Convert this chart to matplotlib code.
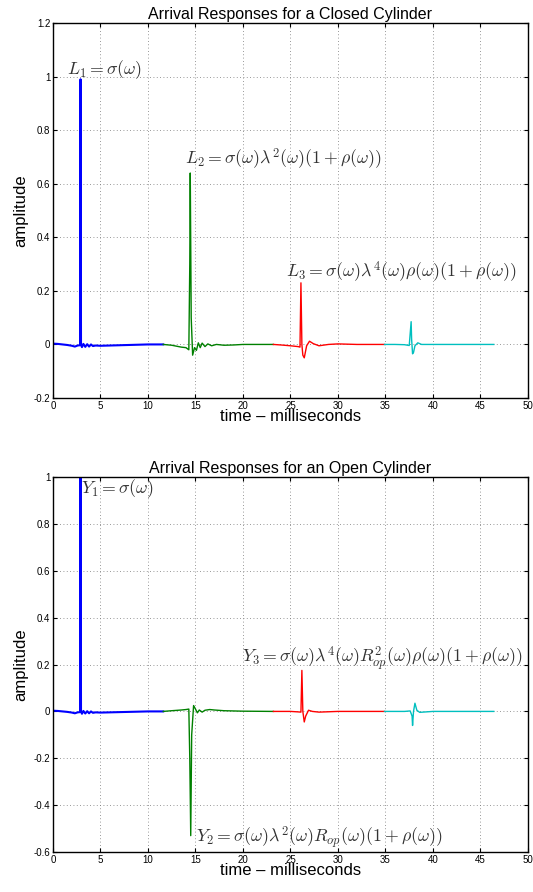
import matplotlib
matplotlib.use("Agg")
import matplotlib.pyplot as plt
import numpy as np

plt.rcParams['font.family'] = ['Liberation Sans', 'DejaVu Sans']
plt.rcParams['mathtext.fontset'] = 'cm'

# closed cylinder arrivals (time ms, amplitude)
closed_blue_t = [0, 0.5, 1, 1.5, 2, 2.3, 2.6, 2.85, 2.9, 2.95, 3.05, 3.2, 3.4, 3.6, 3.8, 4.0, 4.2, 4.5, 5, 6, 7, 8, 9, 10, 11, 11.6]
closed_blue_a = [0.003, 0.002, 0, -0.002, -0.005, -0.008, -0.004, -0.003, 0.99, 0.0, -0.01, 0.002, -0.009, 0.001, -0.008, 0.0, -0.006, -0.004, -0.005, -0.004, -0.003, -0.002, -0.001, 0.0, 0.0, 0.0]
closed_green_t = [11.6, 12.5, 13.5, 14.0, 14.3, 14.4, 14.45, 14.55, 14.7, 14.9, 15.1, 15.3, 15.5, 15.7, 16, 16.3, 16.7, 17.2, 18, 19, 20, 21, 22, 23.2]
closed_green_a = [0, -0.003, -0.01, -0.012, -0.02, 0.3, 0.64, 0.1, -0.04, -0.012, -0.022, 0.006, -0.012, 0.005, -0.008, 0.002, -0.005, 0.0, -0.003, -0.002, 0, 0, 0, 0]
closed_red_t = [23.2, 24, 25, 25.8, 26.0, 26.1, 26.2, 26.3, 26.45, 26.7, 27.0, 27.4, 28, 29, 30, 32, 34.9]
closed_red_a = [0, -0.002, -0.005, -0.008, -0.01, 0.23, 0.0, -0.04, -0.05, -0.005, 0.012, 0.003, -0.005, 0.0, 0.002, 0.0, 0.0]
closed_cyan_t = [34.9, 36, 37, 37.5, 37.7, 37.75, 37.85, 37.95, 38.1, 38.4, 38.8, 40, 42, 44, 46.4]
closed_cyan_a = [0, 0, -0.001, -0.004, 0.085, 0.02, -0.035, -0.03, -0.005, 0.006, 0.0, 0.0, 0, 0, 0]

# open cylinder arrivals
open_blue_t = closed_blue_t
open_blue_a = [0.003, 0.002, 0, -0.002, -0.005, -0.008, -0.004, -0.003, 1.0, 0.0, -0.01, 0.002, -0.009, 0.001, -0.008, 0.0, -0.006, -0.004, -0.005, -0.004, -0.003, -0.002, -0.001, 0.0, 0.0, 0.0]
open_green_t = [11.6, 12.5, 13.5, 14.0, 14.3, 14.4, 14.5, 14.6, 14.8, 15.0, 15.2, 15.4, 15.7, 16, 16.5, 17, 18, 20, 23.2]
open_green_a = [0, 0.003, 0.006, 0.008, 0.01, -0.2, -0.53, -0.1, 0.025, 0.01, -0.006, 0.006, -0.003, 0.005, 0.008, 0.006, 0.003, 0.001, 0]
open_red_t = [23.2, 25, 25.8, 26.1, 26.2, 26.3, 26.45, 26.6, 26.9, 27.3, 28, 30, 34.9]
open_red_a = [0, 0, -0.002, -0.003, 0.175, 0.0, -0.045, -0.02, 0.005, 0.0, -0.003, 0, 0]
open_cyan_t = [34.9, 37, 37.6, 37.8, 37.85, 37.95, 38.1, 38.3, 38.6, 40, 46.4]
open_cyan_a = [0, 0, 0.002, -0.02, -0.06, 0.0, 0.035, 0.005, -0.004, 0, 0]

colors = ['#0000ff', '#008000', '#ff0000', '#00bfbf']
widths = [1.5, 1.0, 1.0, 1.0]

fig = plt.figure(figsize=(5.33, 8.92), dpi=100)
ax1 = fig.add_axes([0.0994, 0.5538, 0.8912, 0.4204])
ax2 = fig.add_axes([0.0994, 0.0448, 0.8912, 0.4204])

closed = [(closed_blue_t, closed_blue_a), (closed_green_t, closed_green_a),
          (closed_red_t, closed_red_a), (closed_cyan_t, closed_cyan_a)]
opened = [(open_blue_t, open_blue_a), (open_green_t, open_green_a),
          (open_red_t, open_red_a), (open_cyan_t, open_cyan_a)]


def style(ax, title, ylim, yticks, ylabels):
    ax.set_xlim(0, 50)
    ax.set_ylim(*ylim)
    ax.set_xticks(np.arange(0, 51, 5))
    ax.set_yticks(yticks)
    ax.set_yticklabels(ylabels)
    ax.tick_params(direction='in', labelsize=7, length=3, top=True, right=True, pad=2)
    ax.grid(True, linestyle=(0, (1, 3)), color='#777777', linewidth=0.6)
    ax.set_title(title, fontsize=11.5, pad=3)
    ax.set_xlabel('time \u2013 milliseconds', fontsize=12, labelpad=-1)
    ax.set_ylabel('amplitude', fontsize=12, labelpad=4)
    for s in ax.spines.values():
        s.set_linewidth(1.0)


for (t, a), c, w in zip(closed, colors, widths):
    ax1.plot(t, a, color=c, linewidth=w)
for (t, a), c, w in zip(opened, colors, widths):
    ax2.plot(t, a, color=c, linewidth=w)

style(ax1, 'Arrival Responses for a Closed Cylinder', (-0.2, 1.2),
      np.arange(-0.2, 1.21, 0.2), ['-0.2', '0', '0.2', '0.4', '0.6', '0.8', '1', '1.2'])
style(ax2, 'Arrival Responses for an Open Cylinder', (-0.6, 1.0),
      np.arange(-0.6, 1.01, 0.2), ['-0.6', '-0.4', '-0.2', '0', '0.2', '0.4', '0.6', '0.8', '1'])

tc = '#333333'
fs = 12.8
ax1.text(1.45, 1.008, r'$L_1 = \sigma(\omega)$', fontsize=fs, color=tc)
ax1.text(13.9, 0.67, r'$L_2 = \sigma(\omega)\lambda^2(\omega)(1+\rho(\omega))$', fontsize=fs, color=tc)
ax1.text(24.5, 0.248, r'$L_3 = \sigma(\omega)\lambda^4(\omega)\rho(\omega)(1+\rho(\omega))$', fontsize=fs, color=tc)

ax2.text(2.95, 0.93, r'$Y_1 = \sigma(\omega)$', fontsize=fs, color=tc)
ax2.text(15.1, -0.56, r'$Y_2 = \sigma(\omega)\lambda^2(\omega)R_{op}(\omega)(1+\rho(\omega))$', fontsize=fs, color=tc)
ax2.text(19.9, 0.206, r'$Y_3 = \sigma(\omega)\lambda^4(\omega)R_{op}^2(\omega)\rho(\omega)(1+\rho(\omega))$', fontsize=fs, color=tc)

fig.savefig('out.png', dpi=100)
